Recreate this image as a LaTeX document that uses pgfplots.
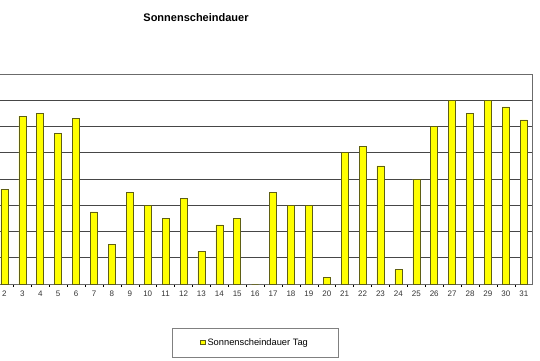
\documentclass[border=0pt]{standalone}
\usepackage{pgfplots}
\pgfplotsset{compat=1.18}
\usepackage{fontspec}
\setmainfont{Liberation Sans}
\definecolor{baryellow}{RGB}{255,255,0}
\definecolor{baredge}{RGB}{95,95,20}
\definecolor{gridc}{RGB}{70,70,70}
\begin{document}
\begin{tikzpicture}
\path[use as bounding box] (0pt,0pt) rectangle (540pt,360pt);
\clip (0pt,0pt) rectangle (540pt,360pt);
\begin{axis}[
  at={(-22.4pt,76pt)}, anchor=south west,
  width=555.1pt, height=210pt, scale only axis,
  xmin=0.5, xmax=31.5, ymin=0, ymax=16,
  ytick={0,2,...,16}, yticklabels={},
  ymajorgrids, grid style={gridc, line width=0.7pt},
  axis line style={gridc!80, line width=0.7pt},
  xtick={1,...,31}, major x tick style={draw=none},
  minor xtick={1.5,2.5,...,30.5},
  minor tick length=2.5pt, tick align=outside, tick pos=left,
  minor x tick style={black, line width=0.5pt},
  major y tick style={draw=none},
  ticklabel style={font=\fontsize{8}{9}\selectfont, text=black!80},
  /pgf/number format/assume math mode=true,
  xticklabel style={yshift=1pt},
  ybar, bar width=7pt,
  legend style={at={(0.5,-0.281)}, anchor=center, draw=gray, line width=0.6pt,
    inner xsep=28pt, inner ysep=8.5pt, font=\fontsize{9.3}{10}\selectfont,
    /tikz/every even column/.append style={column sep=0pt}},
  legend image code/.code={\draw[#1, line width=0.6pt] (0pt,-1.6pt) rectangle (4.5pt,2.6pt);},
]
\addplot[fill=baryellow, draw=baredge, line width=0.6pt] coordinates {
(1,7.0) (2,7.2) (3,12.8) (4,13.0) (5,11.5) (6,12.6) (7,5.5) (8,3.0) (9,7.0) (10,6.0)
(11,5.0) (12,6.5) (13,2.5) (14,4.5) (15,5.0) (16,0) (17,7.0) (18,6.0) (19,6.0) (20,0.5)
(21,10.0) (22,10.5) (23,9.0) (24,1.1) (25,8.0) (26,12.0) (27,14.0) (28,13.0) (29,14.0) (30,13.5) (31,12.5)
};
\addlegendentry{Sonnenscheindauer Tag}
\end{axis}
\node[font=\fontsize{11}{13}\selectfont\bfseries] at (196pt,342pt) {Sonnenscheindauer};
\end{tikzpicture}
\end{document}
